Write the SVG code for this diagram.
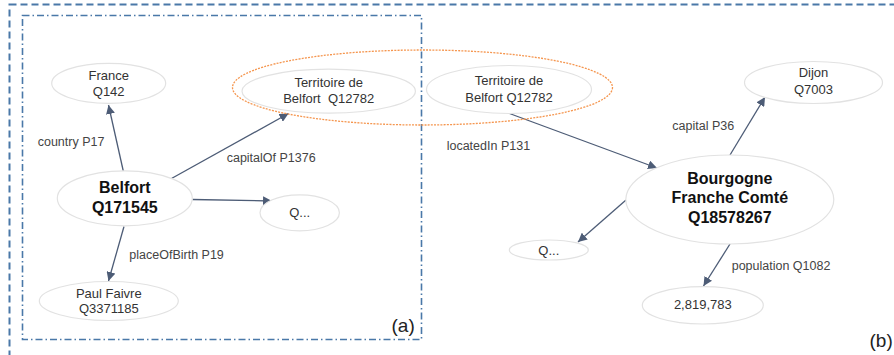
<svg xmlns="http://www.w3.org/2000/svg" width="894" height="355" viewBox="0 0 894 355">
<defs>
<style>
.node{fill:#fff;stroke:#e2e2e2;stroke-width:1.2}
.t{font-family:"Liberation Sans",Arial,sans-serif;font-size:13px;fill:#333;text-anchor:middle}
.b{font-family:"Liberation Sans",Arial,sans-serif;font-size:16px;font-weight:bold;fill:#111;text-anchor:middle}
.lbl{font-family:"Liberation Sans",Arial,sans-serif;font-size:12.5px;fill:#444}
.edge{stroke:#4d5c76;stroke-width:1.3;fill:none;marker-end:url(#arr)}
</style>
<marker id="arr" viewBox="0 0 10 10" refX="10" refY="5" markerWidth="9" markerHeight="9" markerUnits="userSpaceOnUse" orient="auto">
<path d="M0,0 L10,5 L0,10 z" fill="#4d5c76"/>
</marker>
</defs>
<rect x="9.5" y="4.5" width="900" height="360" fill="none" stroke="#4a78a8" stroke-width="2" stroke-dasharray="7 4"/>
<rect x="22.5" y="15.5" width="399" height="324" fill="none" stroke="#4a78a8" stroke-width="1.6" stroke-dasharray="7 3 1.5 3"/>
<g id="connectors">
<line class="edge" x1="123.5" y1="172" x2="108.5" y2="105"/>
<line class="edge" x1="171.5" y1="178.5" x2="288.5" y2="113.5"/>
<line class="edge" x1="192.5" y1="199.5" x2="272" y2="201"/>
<line class="edge" x1="124" y1="226.5" x2="108.5" y2="281"/>
<line class="edge" x1="509.5" y1="113.5" x2="657" y2="168"/>
<line class="edge" x1="730" y1="155" x2="765" y2="97"/>
<line class="edge" x1="626" y1="200" x2="578" y2="242"/>
<line class="edge" x1="730" y1="244" x2="703.5" y2="286"/>
</g>
<g id="france"><ellipse class="node" cx="108.7" cy="83.3" rx="57" ry="20"/><text class="t" x="108.7" y="80">France</text><text class="t" x="108.7" y="96">Q142</text></g>
<g id="territoire-a"><ellipse class="node" cx="328.7" cy="91.2" rx="86.7" ry="22"/><text class="t" x="328.7" y="87.3">Territoire de</text><text class="t" x="328.7" y="103.3" xml:space="preserve">Belfort  Q12782</text></g>
<g id="territoire-b"><ellipse class="node" cx="509" cy="89.5" rx="82.5" ry="24"/><text class="t" x="509" y="85">Territoire de</text><text class="t" x="509" y="101.7">Belfort Q12782</text></g>
<g id="highlight"><ellipse cx="422.5" cy="87.5" rx="190" ry="37.5" fill="none" stroke="#f5964f" stroke-width="1.3" stroke-dasharray="2 1.2"/></g>
<g id="dijon"><ellipse class="node" cx="813.5" cy="82.5" rx="69" ry="21"/><text class="t" x="813.5" y="77.3">Dijon</text><text class="t" x="813.5" y="94">Q7003</text></g>
<g id="belfort"><ellipse class="node" cx="124.8" cy="198.3" rx="67.5" ry="27.5"/><text class="b" x="124.8" y="193.3">Belfort</text><text class="b" x="124.8" y="213.3">Q171545</text></g>
<g id="q-a"><ellipse class="node" cx="299.7" cy="212.8" rx="39.7" ry="18"/><text class="t" x="299.7" y="216.7">Q...</text></g>
<g id="paul"><ellipse class="node" cx="108.8" cy="301" rx="69.5" ry="19.5"/><text class="t" x="108.8" y="297.7">Paul Faivre</text><text class="t" x="108.8" y="312.7">Q3371185</text></g>
<g id="bourgogne"><ellipse class="node" cx="729.8" cy="199.5" rx="104" ry="44.5"/><text class="b" x="729.8" y="184">Bourgogne</text><text class="b" x="729.8" y="203.3">Franche Comté</text><text class="b" x="729.8" y="223.3">Q18578267</text></g>
<g id="q-b"><ellipse class="node" cx="548.8" cy="250" rx="39.5" ry="10"/><text class="t" x="548.8" y="255">Q...</text></g>
<g id="population"><ellipse class="node" cx="702.8" cy="305.3" rx="60.5" ry="18.7"/><text class="t" x="702.8" y="309.3">2,819,783</text></g>
<g id="labels">
<text class="lbl" x="37.7" y="145.7">country P17</text>
<text class="lbl" x="226.7" y="161.7">capitalOf P1376</text>
<text class="lbl" x="129.3" y="259.3">placeOfBirth P19</text>
<text class="lbl" x="446.7" y="150">locatedIn P131</text>
<text class="lbl" x="672.3" y="130">capital P36</text>
<text class="lbl" x="731.7" y="270">population Q1082</text>
<text x="391.5" y="331.5" font-family="Liberation Sans,Arial,sans-serif" font-size="19" fill="#222">(a)</text>
<text x="869.5" y="346.5" font-family="Liberation Sans,Arial,sans-serif" font-size="19" fill="#222">(b)</text>
</g>
</svg>
